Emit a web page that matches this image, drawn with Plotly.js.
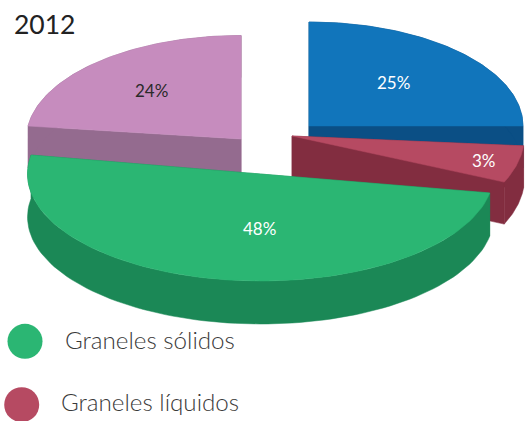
<!DOCTYPE html>
<html><head><meta charset="utf-8">
<script src="https://cdn.plot.ly/plotly-3.0.1.min.js"></script>
<style>html,body{margin:0;padding:0;background:#fff}</style></head>
<body><div id="chart" style="width:530px;height:421px"></div>
<script>
// Data
const chartTitle = "2012";
const categories = ["Contenedores", "Graneles líquidos", "Graneles sólidos", "Carga general"];
const shareLabels = ["25%", "3%", "48%", "24%"];
// Arc of each slice as actually drawn in the reference (percent of a full turn)
const drawnArcs = [25, 5.3, 50, 23];
const legendCategories = ["Graneles sólidos", "Graneles líquidos"];

// Style and layout of the exploded perspective pie
const topColors = ["#1175bb", "#b64a62", "#2bb673", "#c68cbe"];
const sideColors = ["#0b4f85", "#822d40", "#1b8856", "#946b8f"];
const labelColors = ["#ffffff", "#ffffff", "#ffffff", "#2a2a2a"];
const startAngles = [0, 95, 100.2, 277.2];
const centersX = [309, 292, 260.5, 241];
const centersY = [126, 136, 174, 139];
const radiiX = [214, 232.5, 233, 214.7];
const radiiY = [104, 113, 107, 103.5];
const depths = [42, 42, 43, 42];
const labelX = [393, 484, 259, 151];
const labelY = [82, 160, 228, 90];
const legendMarkX = [25, 21.7];
const legendMarkY = [341.3, 404.7];
const legendTextX = [65, 61];
const legendTextY = [339, 401];
const textFont = "Lato, sans-serif";

function arcPoints(i) {
  const a0 = startAngles[i], sweep = drawnArcs[i] * 3.6, n = 90, xs = [], ys = [];
  for (let k = 0; k <= n; k++) {
    const t = (a0 + sweep * k / n) * Math.PI / 180;
    xs.push(centersX[i] + radiiX[i] * Math.sin(t));
    ys.push(centersY[i] - radiiY[i] * Math.cos(t));
  }
  return {xs, ys};
}
function poly(x, y, color, name) {
  return {type: "scatter", mode: "lines", x, y, fill: "toself", fillcolor: color,
          line: {width: 0.5, color}, hoverinfo: "skip", showlegend: false, name};
}
const traces = [];
// back to front: carga general, contenedores, líquidos, sólidos
[3, 0, 1, 2].forEach(i => {
  const {xs, ys} = arcPoints(i), d = depths[i];
  const cx = centersX[i], cy = centersY[i], last = xs.length - 1;
  [[xs[0], ys[0]], [xs[last], ys[last]]].forEach(p => {
    traces.push(poly([cx, p[0], p[0], cx, cx], [cy, p[1], p[1] + d, cy + d, cy], sideColors[i], categories[i]));
  });
  traces.push(poly(xs.concat(xs.slice().reverse()), ys.concat(ys.slice().reverse().map(v => v + d)), sideColors[i], categories[i]));
  traces.push(poly([cx].concat(xs, [cx]), [cy].concat(ys, [cy]), topColors[i], categories[i]));
});
legendCategories.forEach((c, k) => {
  const i = categories.indexOf(c);
  traces.push({type: "scatter", mode: "markers", x: [legendMarkX[k]], y: [legendMarkY[k]],
    marker: {size: 35, color: topColors[i]}, hoverinfo: "skip", showlegend: false, name: c});
});
const annotations = [];
shareLabels.forEach((t, i) => annotations.push({x: labelX[i], y: labelY[i], text: t, showarrow: false,
  font: {family: textFont, weight: 400, size: 17, color: labelColors[i]}, xanchor: "center", yanchor: "middle"}));
legendCategories.forEach((c, k) => annotations.push({x: legendTextX[k], y: legendTextY[k], text: c, showarrow: false,
  font: {family: textFont, weight: 300, size: 24.2, color: "#3a3a3a"}, xanchor: "left", yanchor: "middle", xshift: -2}));
annotations.push({x: 14, y: 24, text: chartTitle, showarrow: false, xanchor: "left", yanchor: "middle", xshift: -2,
  font: {family: textFont, weight: 400, size: 26.5, color: "#222"}});

Plotly.newPlot("chart", traces, {
  width: 530, height: 421, margin: {l: 0, r: 0, t: 0, b: 0},
  paper_bgcolor: "#fff", plot_bgcolor: "#fff", showlegend: false,
  xaxis: {range: [0, 530], visible: false, fixedrange: true},
  yaxis: {range: [421, 0], visible: false, fixedrange: true},
  annotations
}, {displayModeBar: false, staticPlot: true});
</script></body></html>
